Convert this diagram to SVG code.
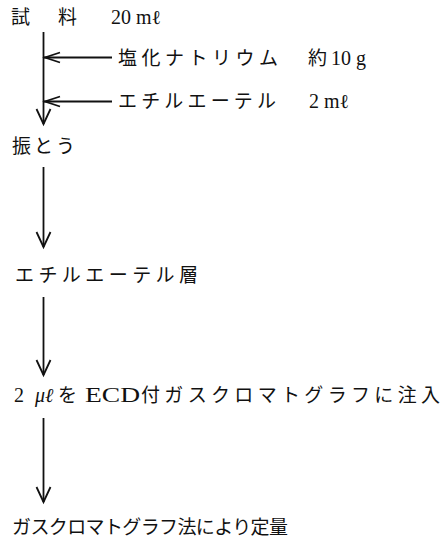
<svg xmlns="http://www.w3.org/2000/svg" width="443" height="545" viewBox="0 0 443 545">
<style>
text{font-family:"Liberation Serif","Noto Sans CJK JP",serif;font-size:20px;fill:#111}
.j{font-family:"Noto Sans CJK JP",sans-serif;font-size:19px}
.ecd{font-size:22px}
.ln{stroke:#111;stroke-width:1.8;fill:none}
.ah{stroke:#111;stroke-width:1.8;fill:none;stroke-linejoin:miter}
</style>
<rect width="443" height="545" fill="#fff"/>
<g id="connectors">
<line class="ln" x1="43.5" y1="32" x2="43.5" y2="124"/>
<polyline class="ah" points="36.5,109 43.5,124 50.5,109"/>
<line class="ln" x1="44" y1="57.5" x2="112" y2="57.5"/>
<polyline class="ah" points="60,52.5 45,57.5 60,62.5"/>
<line class="ln" x1="44" y1="101.5" x2="112" y2="101.5"/>
<polyline class="ah" points="60,96.5 45,101.5 60,106.5"/>
<line class="ln" x1="43.5" y1="167" x2="43.5" y2="247"/>
<polyline class="ah" points="36.5,232 43.5,247 50.5,232"/>
<line class="ln" x1="43.5" y1="297" x2="43.5" y2="375"/>
<polyline class="ah" points="36.5,360 43.5,375 50.5,360"/>
<line class="ln" x1="43.5" y1="418" x2="43.5" y2="502"/>
<polyline class="ah" points="36.5,487 43.5,502 50.5,487"/>
</g>
<g id="sample">
<text class="j" x="11" y="24">試</text>
<text class="j" x="58" y="24">料</text>
<text x="111" y="24">20 mℓ</text>
</g>
<g id="nacl">
<text class="j" x="118" y="65" textLength="160" lengthAdjust="spacing">塩化ナトリウム</text>
<text class="j" x="308" y="65">約</text>
<text x="331" y="65">10 g</text>
</g>
<g id="ether">
<text class="j" x="118" y="108" textLength="158" lengthAdjust="spacing">エチルエーテル</text>
<text x="309" y="108">2 mℓ</text>
</g>
<g id="shake">
<text class="j" x="12" y="153" textLength="63" lengthAdjust="spacing">振とう</text>
</g>
<g id="ether-layer">
<text class="j" x="15" y="282" textLength="183" lengthAdjust="spacing">エチルエーテル層</text>
</g>
<g id="inject">
<text x="14" y="402">2</text>
<text x="35" y="402" font-style="italic">μℓ</text>
<text class="j" x="58" y="402">を</text>
<text class="ecd" x="85" y="402" textLength="55" lengthAdjust="spacingAndGlyphs">ECD</text>
<text class="j" x="141" y="402" textLength="299" lengthAdjust="spacing">付ガスクロマトグラフに注入</text>
</g>
<g id="quant">
<text class="j" x="12" y="534" textLength="276" lengthAdjust="spacing">ガスクロマトグラフ法により定量</text>
</g>
</svg>
